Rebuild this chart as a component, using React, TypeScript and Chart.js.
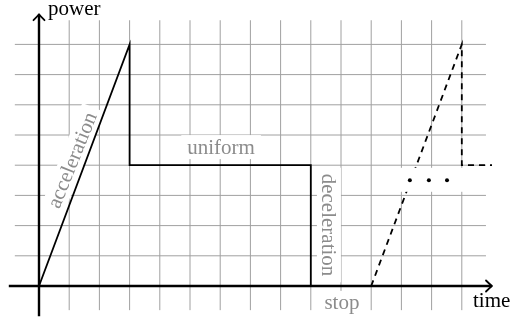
import { useEffect, useRef } from "react";
import { Chart, registerables } from "chart.js";

Chart.register(...registerables);

// ---- data ----
const solidX = [0, 3, 3, 9, 9];
const solidY = [0, 8, 4, 4, 0];
const dashedX = [11, 14, 14, 15];
const dashedY = [0, 8, 4, 4];
const dotsX = [12.28, 12.91, 13.51];
const dotsY = [3.5, 3.5, 3.5];

const gridXs = [1, 2, 3, 4, 5, 6, 7, 8, 9, 10, 11, 12, 13, 14];
const gridYs = [1, 2, 3, 4, 5, 6, 7, 8];
const gridXRange = [-0.8, 14.8];
const gridYRange = [-0.8, 8.8];
const axisXRange = [-1, 15];
const axisYRange = [-1, 9];

const labelTexts = ["acceleration", "uniform", "deceleration", "stop"];
const labelX = [1.1, 6.03, 9.6, 10.03];
const labelY = [4.17, 4.6, 2.02, -0.56];
const labelAngles = [-68, 0, 90, 0];

const axisTitleTexts = ["power", "time"];
const axisTitleX = [0.3, 14.37];
const axisTitleY = [8.97, -0.7];

// ---- styles ----
const UNIT = 30.2;
const ORIGIN_X = 39;
const ORIGIN_Y = 286;
const W = 512;
const H = 320;
const FONT = '21px "Liberation Serif", "Times New Roman", serif';
const GRAY_TEXT = "#8c8c8c";
const GRID = "#a0a0a0";

const decorPlugin = {
  id: "decor",
  beforeDatasetsDraw(chart: any) {
    const { ctx, scales } = chart;
    const px = (v: number) => scales.x.getPixelForValue(v);
    const py = (v: number) => scales.y.getPixelForValue(v);
    ctx.save();
    // grid
    ctx.strokeStyle = GRID;
    ctx.lineWidth = 1;
    ctx.beginPath();
    for (const gx of gridXs) {
      ctx.moveTo(px(gx), py(gridYRange[0]));
      ctx.lineTo(px(gx), py(gridYRange[1]));
    }
    for (const gy of gridYs) {
      ctx.moveTo(px(gridXRange[0]), py(gy));
      ctx.lineTo(px(gridXRange[1]), py(gy));
    }
    ctx.stroke();
    // labels with white boxes
    ctx.font = FONT;
    ctx.textAlign = "center";
    ctx.textBaseline = "middle";
    labelTexts.forEach((t, i) => {
      const cx = px(labelX[i]);
      const cy = py(labelY[i]);
      const tw = ctx.measureText(t).width;
      const bw = tw + 12;
      const bh = 24;
      ctx.save();
      ctx.translate(cx, cy);
      ctx.rotate((labelAngles[i] * Math.PI) / 180);
      ctx.fillStyle = "#ffffff";
      ctx.fillRect(-bw / 2, -bh / 2, bw, bh);
      ctx.fillStyle = GRAY_TEXT;
      ctx.fillText(t, 0, 1);
      ctx.restore();
    });
    ctx.restore();
  },
  afterDatasetsDraw(chart: any) {
    const { ctx, scales } = chart;
    const px = (v: number) => scales.x.getPixelForValue(v);
    const py = (v: number) => scales.y.getPixelForValue(v);
    ctx.save();
    // dots node with white box
    const dx0 = px(dotsX[0]);
    const dx1 = px(dotsX[dotsX.length - 1]);
    const dcy = py(dotsY[0]);
    ctx.fillStyle = "#ffffff";
    ctx.fillRect(dx0 - 12, dcy - 12.5, dx1 - dx0 + 28, 24);
    ctx.fillStyle = "#000000";
    dotsX.forEach((dx, i) => {
      ctx.beginPath();
      ctx.arc(px(dx), py(dotsY[i]), 2, 0, Math.PI * 2);
      ctx.fill();
    });
    // axes
    ctx.strokeStyle = "#000000";
    ctx.lineWidth = 2.4;
    ctx.beginPath();
    ctx.moveTo(px(axisXRange[0]), py(0));
    ctx.lineTo(px(axisXRange[1]) - 1, py(0));
    ctx.moveTo(px(0), py(axisYRange[0]));
    ctx.lineTo(px(0), py(axisYRange[1]) + 1);
    ctx.stroke();
    // arrow heads
    ctx.lineWidth = 1.8;
    ctx.lineCap = "round";
    ctx.lineJoin = "round";
    const ax = px(axisXRange[1]);
    const ay = py(0);
    ctx.beginPath();
    ctx.moveTo(ax - 6, ay - 5.5);
    ctx.quadraticCurveTo(ax - 2, ay - 1.5, ax, ay);
    ctx.quadraticCurveTo(ax - 2, ay + 1.5, ax - 6, ay + 5.5);
    ctx.stroke();
    const bx = px(0);
    const by = py(axisYRange[1]);
    ctx.beginPath();
    ctx.moveTo(bx - 5.5, by + 6);
    ctx.quadraticCurveTo(bx - 1.5, by + 2, bx, by);
    ctx.quadraticCurveTo(bx + 1.5, by + 2, bx + 5.5, by + 6);
    ctx.stroke();
    // axis titles
    ctx.font = FONT;
    ctx.fillStyle = "#000000";
    ctx.textAlign = "left";
    ctx.textBaseline = "alphabetic";
    axisTitleTexts.forEach((t, i) => {
      ctx.fillText(t, px(axisTitleX[i]), py(axisTitleY[i]));
    });
    ctx.restore();
  },
};

export default function App() {
  const ref = useRef<HTMLCanvasElement | null>(null);
  useEffect(() => {
    if (!ref.current) return;
    const chart = new Chart(ref.current, {
      type: "line",
      data: {
        datasets: [
          {
            data: solidX.map((x, i) => ({ x, y: solidY[i] })),
            borderColor: "#000000",
            borderWidth: 1.8,
            pointRadius: 0,
            tension: 0,
            fill: false,
            borderJoinStyle: "miter",
          },
          {
            data: dashedX.map((x, i) => ({ x, y: dashedY[i] })),
            borderColor: "#000000",
            borderWidth: 1.8,
            borderDash: [6, 5],
            pointRadius: 0,
            tension: 0,
            fill: false,
            borderJoinStyle: "miter",
          },
        ],
      },
      options: {
        responsive: false,
        animation: false,
        layout: { padding: 0 },
        plugins: {
          legend: { display: false },
          title: { display: false },
          tooltip: { enabled: false },
        },
        scales: {
          x: {
            type: "linear",
            display: false,
            min: -ORIGIN_X / UNIT,
            max: (W - ORIGIN_X) / UNIT,
          },
          y: {
            type: "linear",
            display: false,
            min: -(H - ORIGIN_Y) / UNIT,
            max: ORIGIN_Y / UNIT,
          },
        },
      },
      plugins: [decorPlugin],
    } as any);
    return () => chart.destroy();
  }, []);
  return (
    <div style={{ position: "absolute", left: 0, top: 0, width: W, height: H, background: "#fff" }}>
      <canvas ref={ref} width={W} height={H} style={{ display: "block" }} />
    </div>
  );
}
